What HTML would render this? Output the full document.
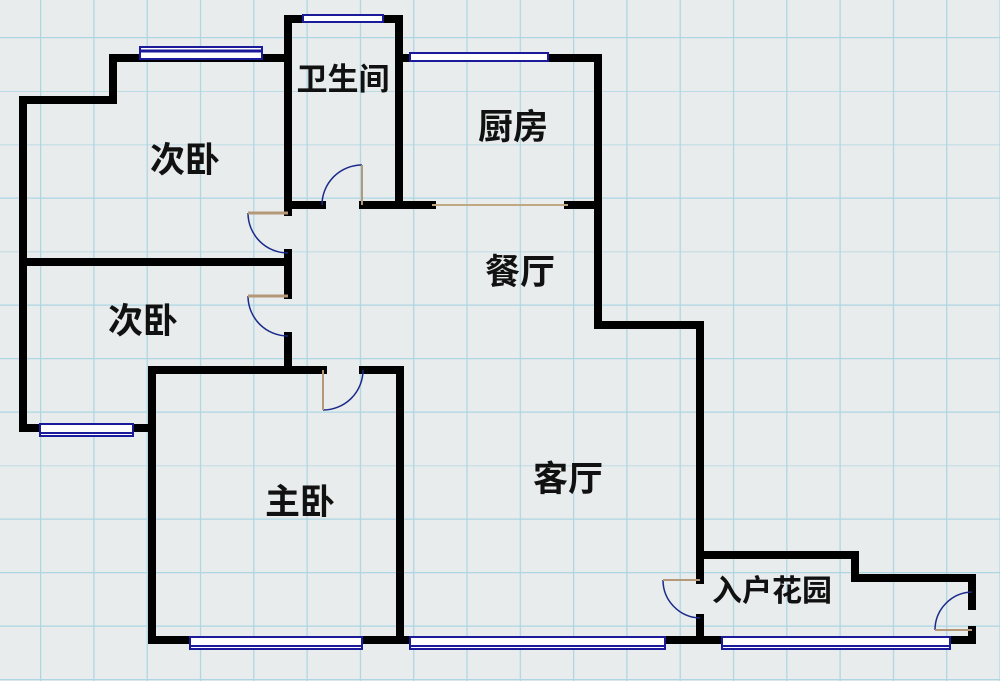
<!DOCTYPE html>
<html><head><meta charset="utf-8"><style>
html,body{margin:0;padding:0;}
body{width:1000px;height:681px;overflow:hidden;background:#e9ecec;}
svg{display:block}
text{font-family:"Liberation Sans","Noto Sans CJK SC",sans-serif;fill:#111;font-weight:bold;}
</style></head><body>
<svg width="1000" height="681" viewBox="0 0 1000 681" xmlns="http://www.w3.org/2000/svg">
<defs>
<pattern id="g" x="40" y="37" width="53.3" height="53.5" patternUnits="userSpaceOnUse">
<path d="M0 0V53.5M0 0H53.3" stroke="#acd6e4" stroke-width="2.5" fill="none"/>
</pattern>
</defs>
<rect width="1000" height="681" fill="#e9ecec"/>
<rect width="1000" height="681" fill="url(#g)"/>
<g stroke="#000" stroke-width="8" fill="none" stroke-linecap="square">
<polyline points="288,212 288,19 399,19 399,205"/>
<polyline points="288,58 113,58 113,100 23,100 23,428 152,428"/>
<line x1="23" y1="262" x2="288" y2="262"/>
<line x1="288" y1="253" x2="288" y2="295"/>
<line x1="288" y1="336" x2="288" y2="370"/>
<polyline points="323,370 152,370 152,640 705,640"/>
<polyline points="363,370 400,370 400,640"/>
<line x1="288" y1="205" x2="322" y2="205"/>
<line x1="363" y1="205" x2="432" y2="205"/>
<line x1="568" y1="205" x2="598" y2="205"/>
<polyline points="399,58 598,58 598,325 700,325 700,580"/>
<polyline points="700,555 855,555 855,578 972,578 972,606"/>
<polyline points="700,618 700,640 972,640 972,630"/>
</g>
<line x1="432" y1="205" x2="568" y2="205" stroke="#c0a882" stroke-width="2"/>
<g fill="none" stroke-width="1.5">
<path d="M248 213 A40 40 0 0 0 288 253" stroke="#1a2a8a"/><line x1="248" y1="213" x2="288" y2="213" stroke="#b49878" stroke-width="3"/>
<path d="M248 296 A40 40 0 0 0 288 336" stroke="#1a2a8a"/><line x1="248" y1="296" x2="288" y2="296" stroke="#b49878" stroke-width="3"/>
<path d="M323 410 A40 40 0 0 0 363 370" stroke="#1a2a8a"/><line x1="323" y1="370" x2="323" y2="410" stroke="#b49878" stroke-width="2"/>
<path d="M322 205 A40 40 0 0 1 362 165" stroke="#1a2a8a"/><line x1="362" y1="165" x2="362" y2="205" stroke="#b49878" stroke-width="2"/>
<path d="M663 580 A38 38 0 0 0 700 618" stroke="#1a2a8a"/><line x1="663" y1="580" x2="700" y2="580" stroke="#b49878" stroke-width="2"/>
<path d="M935 630 A38 38 0 0 1 972 592" stroke="#1a2a8a"/><line x1="935" y1="630" x2="972" y2="630" stroke="#b49878" stroke-width="2"/>
</g>
<g>
<rect x="140" y="47" width="122" height="12" fill="#fff" stroke="#1a1a9a" stroke-width="2"/><line x1="140" y1="51" x2="262" y2="51" stroke="#1a1a9a" stroke-width="3"/>
<rect x="303" y="15" width="80" height="7" fill="#fff" stroke="#1a1a9a" stroke-width="2"/>
<rect x="410" y="53" width="138" height="8" fill="#fff" stroke="#1a1a9a" stroke-width="2"/>
<rect x="40" y="424" width="93" height="12" fill="#fff" stroke="#1a1a9a" stroke-width="2"/><line x1="40" y1="433" x2="133" y2="433" stroke="#1a1a9a" stroke-width="2"/>
<rect x="190" y="637" width="172" height="12" fill="#fff" stroke="#1a1a9a" stroke-width="2"/><line x1="190" y1="646" x2="362" y2="646" stroke="#1a1a9a" stroke-width="2"/>
<rect x="410" y="637" width="255" height="12" fill="#fff" stroke="#1a1a9a" stroke-width="2"/><line x1="410" y1="646" x2="665" y2="646" stroke="#1a1a9a" stroke-width="2"/>
<rect x="722" y="637" width="228" height="12" fill="#fff" stroke="#1a1a9a" stroke-width="2"/><line x1="722" y1="646" x2="950" y2="646" stroke="#1a1a9a" stroke-width="2"/>
</g>
<g font-size="35" text-anchor="middle">
<text x="185" y="172">次卧</text>
<text x="343" y="90" font-size="31">卫生间</text>
<text x="513" y="139">厨房</text>
<text x="520" y="284">餐厅</text>
<text x="143" y="333">次卧</text>
<text x="568" y="491">客厅</text>
<text x="300" y="514">主卧</text>
<text x="772" y="601" font-size="30">入户花园</text>
</g>
</svg>
</body></html>
